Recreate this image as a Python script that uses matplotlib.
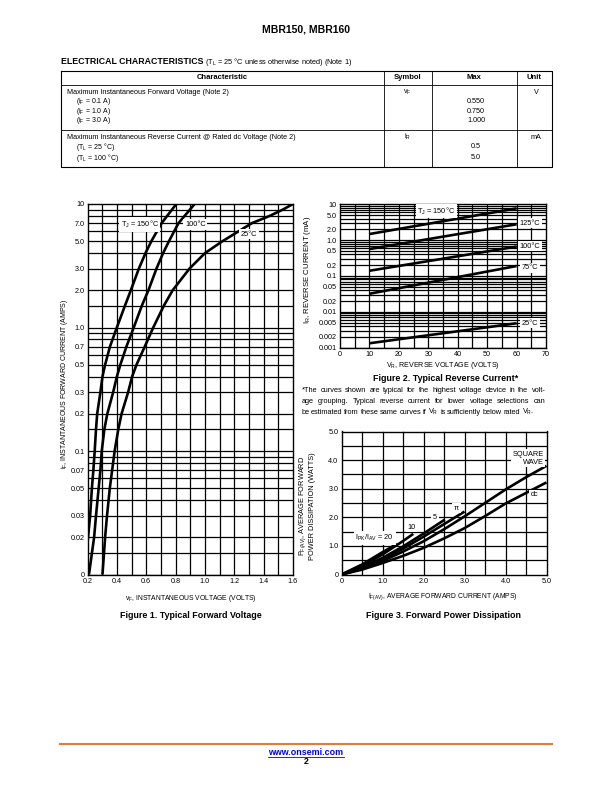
import numpy as np
import matplotlib
matplotlib.use("Agg")
import matplotlib.pyplot as plt

plt.rcParams['font.family'] = ['Liberation Sans', 'DejaVu Sans']
plt.rcParams['mathtext.fontset'] = 'custom'
plt.rcParams['mathtext.rm'] = 'Liberation Sans'

# ---- Figure 1: typical forward voltage (vF in V, iF in A)
i150 = [0.018, 0.03, 0.05, 0.07, 0.1, 0.15, 0.2, 0.3, 0.4, 0.5, 0.7, 1.0, 1.5, 2.0, 3.0, 4.0, 5.0, 7.0, 10.0]
v150 = [0.200, 0.218, 0.230, 0.240, 0.249, 0.258, 0.266, 0.288, 0.302, 0.320, 0.353, 0.400, 0.455, 0.495, 0.550, 0.595, 0.635, 0.705, 0.805]
i100 = [0.01, 0.02, 0.03, 0.05, 0.07, 0.1, 0.15, 0.2, 0.3, 0.4, 0.5, 0.7, 1.0, 1.5, 2.0, 3.0, 4.0, 5.0, 7.0, 10.0]
v100 = [0.210, 0.245, 0.258, 0.276, 0.288, 0.297, 0.315, 0.335, 0.375, 0.400, 0.424, 0.465, 0.515, 0.570, 0.615, 0.670, 0.715, 0.755, 0.820, 0.930]
i25 = [0.01, 0.02, 0.03, 0.05, 0.07, 0.1, 0.15, 0.2, 0.3, 0.4, 0.5, 0.7, 1.0, 1.5, 2.0, 3.0, 4.0, 5.0, 7.0, 8.0, 9.0, 10.0]
v25 = [0.302, 0.320, 0.333, 0.352, 0.368, 0.385, 0.410, 0.432, 0.477, 0.504, 0.534, 0.590, 0.648, 0.720, 0.780, 0.895, 1.000, 1.120, 1.320, 1.440, 1.530, 1.600]
f1_yticks = [0.01, 0.02, 0.03, 0.05, 0.07, 0.1, 0.2, 0.3, 0.5, 0.7, 1.0, 2.0, 3.0, 5.0, 7.0, 10.0]
f1_ylabels = ['0', '0.02', '0.03', '0.05', '0.07', '0.1', '0.2', '0.3', '0.5', '0.7', '1.0', '2.0', '3.0', '5.0', '7.0', '10']
f1_xticks = [0.2, 0.4, 0.6, 0.8, 1.0, 1.2, 1.4, 1.6]

# ---- Figure 2: typical reverse current (VR in V, IR in mA)
vr = [10, 60]
ir150 = [1.48, 7.7]
ir125 = [0.566, 2.77]
ir100 = [0.14, 0.66]
ir75 = [0.032, 0.19]
ir25 = [0.00133, 0.0048]
f2_yticks = [0.001, 0.002, 0.005, 0.01, 0.02, 0.05, 0.1, 0.2, 0.5, 1.0, 2.0, 5.0, 10.0]
f2_ylabels = ['0.001', '0.002', '0.005', '0.01', '0.02', '0.05', '0.1', '0.2', '0.5', '1.0', '2.0', '5.0', '10']
f2_xticks = [0, 10, 20, 30, 40, 50, 60, 70]

# ---- Figure 3: forward power dissipation (IF(AV) in A, PF(AV) in W)
dc_i = [0, 0.5, 1.0, 1.5, 2.0, 2.5, 3.0, 3.5, 4.0, 4.5, 5.0]
dc_p = [0, 0.17, 0.40, 0.65, 0.93, 1.26, 1.62, 2.04, 2.48, 2.85, 3.22]
sq_i = [0, 0.5, 1.0, 1.5, 2.0, 2.5, 3.0, 3.5, 4.0, 4.5, 5.0]
sq_p = [0, 0.20, 0.47, 0.80, 1.16, 1.58, 2.03, 2.50, 2.97, 3.40, 3.80]
pi_i = [0, 0.5, 1.0, 1.5, 2.0, 2.5, 3.0]
pi_p = [0, 0.22, 0.52, 0.90, 1.32, 1.76, 2.20]
r5_i = [0, 0.5, 1.0, 1.5, 2.0, 2.52]
r5_p = [0, 0.25, 0.58, 0.98, 1.43, 1.92]
r10_i = [0, 0.5, 1.0, 1.5, 1.75]
r10_p = [0, 0.30, 0.70, 1.17, 1.42]
r20_i = [0, 0.5, 1.0, 1.35]
r20_p = [0, 0.35, 0.78, 1.07]
f3_ticks = [0, 1.0, 2.0, 3.0, 4.0, 5.0]
f3_labels = ['0', '1.0', '2.0', '3.0', '4.0', '5.0']

# ---- table
rows_char = [
    ['Maximum Instantaneous Forward Voltage (Note 2)',
     '(i$_\\mathregular{F}$ = 0.1 A)', '(i$_\\mathregular{F}$ = 1.0 A)', '(i$_\\mathregular{F}$ = 3.0 A)'],
    ['Maximum Instantaneous Reverse Current @ Rated dc Voltage (Note 2)',
     '(T$_\\mathregular{L}$ = 25 °C)', '(T$_\\mathregular{L}$ = 100 °C)'],
]
rows_symbol = ['v$_\\mathregular{F}$', 'i$_\\mathregular{R}$']
rows_max = [['0.550', '0.750', '1.000'], ['0.5', '5.0']]
rows_unit = ['V', 'mA']

fig = plt.figure(figsize=(6.12, 7.92), dpi=100)

# page layer in pixel coordinates
page = fig.add_axes([0, 0, 1, 1])
page.set_xlim(0, 612)
page.set_ylim(792, 0)
page.axis('off')

page.text(306, 30, 'MBR150, MBR160', ha='center', va='center', fontsize=7.5, fontweight='bold')
page.text(61, 61, 'ELECTRICAL CHARACTERISTICS', ha='left', va='center', fontsize=6.3, fontweight='bold')
page.text(205, 61.5, '(T$_\\mathregular{L}$ = 25 °C unless otherwise noted) (Note 1)', ha='left', va='center',
          fontsize=5.3)

# table grid
tl, tr, tt, tb = 61, 551.5, 70.5, 166.5
col = [383.5, 431.5, 516.5]
hb, r1b = 85, 130
page.plot([tl, tr, tr, tl, tl], [tt, tt, tb, tb, tt], color='black', lw=0.8)
for cx in col:
    page.plot([cx, cx], [tt, tb], color='black', lw=0.6)
page.plot([tl, tr], [hb, hb], color='black', lw=0.6)
page.plot([tl, tr], [r1b, r1b], color='black', lw=0.6)
hy = (tt + hb) / 2
for x, s in zip([(tl + col[0]) / 2, (col[0] + col[1]) / 2, (col[1] + col[2]) / 2, (col[2] + tr) / 2],
                ['Characteristic', 'Symbol', 'Max', 'Unit']):
    page.text(x, hy, s, ha='center', va='center', fontsize=5.5, fontweight='bold')

row_y = [[92.3, 101.6, 111.2, 120.9], [137.3, 147, 157.5]]
for r in range(2):
    for k, s in enumerate(rows_char[r]):
        page.text(67 if k == 0 else 76, row_y[r][k], s, ha='left', va='center',
                  fontsize=5.2 if k == 0 else 5.0)
    page.text((col[0] + col[1]) / 2, row_y[r][0], rows_symbol[r], ha='center', va='center', fontsize=5.2)
    for k, s in enumerate(rows_max[r]):
        page.text((col[1] + col[2]) / 2 + 2, row_y[r][k + 1], s, ha='center', va='center', fontsize=5.2)
    page.text((col[2] + tr) / 2 + 2, row_y[r][0], rows_unit[r], ha='center', va='center', fontsize=5.2)


def rect(x0, y0, x1, y1):
    return [x0 / 612, 1 - y1 / 792, (x1 - x0) / 612, (y1 - y0) / 792]


def style(ax):
    ax.tick_params(length=0, labelsize=5.2, pad=2.2)
    for s in ax.spines.values():
        s.set_linewidth(1.0)
    ax.set_axisbelow(True)


GRID = dict(color='black', lw=0.9, zorder=1)
CURVE = dict(color='black', lw=1.9, zorder=3, solid_capstyle='butt')
LBL = dict(fontsize=5.3, ha='center', va='center', zorder=4,
           bbox=dict(facecolor='white', edgecolor='none', pad=1.2))

# ---------------- Figure 1
ax1 = fig.add_axes(rect(87.5, 204, 293, 574.5))
style(ax1)
ax1.set_yscale('log')
ax1.set_xlim(0.2, 1.6)
ax1.set_ylim(0.01, 10)
for e in (-2, -1, 0):
    for m in (1, 1.5, 2, 3, 4, 5, 6, 7, 8, 9):
        ax1.axhline(m * 10.0 ** e, **GRID)
for x in np.arange(0.3, 1.6, 0.1):
    ax1.axvline(x, **GRID)
ax1.plot(v150, i150, **CURVE)
ax1.plot(v100, i100, **CURVE)
ax1.plot(v25, i25, **CURVE)
ax1.set_yticks(f1_yticks, f1_ylabels)
ax1.set_xticks(f1_xticks, ['%.1f' % v for v in f1_xticks])
ax1.minorticks_off()
ax1.text(0.555, 6.8, 'T$_\\mathregular{J}$ = 150°C', **LBL)
ax1.text(0.935, 6.8, '100°C', **LBL)
ax1.text(1.30, 5.7, '25°C', **LBL)

page.text(64.5, 384, 'i$_\\mathregular{F}$, INSTANTANEOUS FORWARD CURRENT (AMPS)', rotation=90,
          ha='center', va='center', fontsize=5.0)
page.text(190.5, 598.3, 'v$_\\mathregular{F}$, INSTANTANEOUS VOLTAGE (VOLTS)', ha='center', va='center',
          fontsize=4.9)
page.text(190.5, 616, 'Figure 1. Typical Forward Voltage', ha='center', va='center', fontsize=6.4,
          fontweight='bold')

# ---------------- Figure 2
ax2 = fig.add_axes(rect(340, 204.3, 546, 347.7))
style(ax2)
ax2.set_yscale('log')
ax2.set_xlim(0, 70)
ax2.set_ylim(0.001, 10)
for e in (-3, -2, -1, 0):
    for m in range(1, 10):
        ax2.axhline(m * 10.0 ** e, **GRID)
for x in range(5, 70, 5):
    ax2.axvline(x, **GRID)
for ir in (ir150, ir125, ir100, ir75, ir25):
    ax2.plot(vr, ir, **CURVE)
ax2.set_yticks(f2_yticks, f2_ylabels)
ax2.set_xticks(f2_xticks, [str(v) for v in f2_xticks])
ax2.minorticks_off()
ax2.text(32.7, 6.5, 'T$_\\mathregular{J}$ = 150°C', **LBL)
ax2.text(64.6, 2.95, '125°C', **LBL)
ax2.text(64.6, 0.68, '100°C', **LBL)
ax2.text(64.6, 0.17, '75°C', **LBL)
ax2.text(64.6, 0.0048, '25°C', **LBL)

page.text(307.5, 270, 'I$_\\mathregular{R}$, REVERSE CURRENT (mA)', rotation=90, ha='center', va='center',
          fontsize=5.6)
page.text(443, 365.7, 'V$_\\mathregular{R}$, REVERSE VOLTAGE (VOLTS)', ha='center', va='center',
          fontsize=5.1)
page.text(446, 378.3, 'Figure 2. Typical Reverse Current*', ha='center', va='center', fontsize=6.4,
          fontweight='bold')

# footnote, justified
note = ['*The curves shown are typical for the highest voltage device in the volt-',
        'age grouping. Typical reverse current for lower voltage selections can',
        'be estimated from these same curves if V$_\\mathregular{R}$ is sufficiently below rated V$_\\mathregular{R}$.']
renderer = fig.canvas.get_renderer()
for k, (line, y) in enumerate(zip(note, [391, 401.3, 412])):
    words = line.split(' ')
    arts = [page.text(0, y, w, ha='left', va='center', fontsize=5.3) for w in words]
    widths = [a.get_window_extent(renderer).width for a in arts]
    gap = (545.5 - 301.5 - sum(widths)) / (len(words) - 1) if k < 2 else 1.6
    x = 301.5
    for a, w in zip(arts, widths):
        a.set_x(x)
        x += w + gap

# ---------------- Figure 3
ax3 = fig.add_axes(rect(341.5, 431.5, 546.5, 574.5))
style(ax3)
ax3.set_xlim(0, 5)
ax3.set_ylim(0, 5)
for g in np.arange(0.5, 5.0, 0.5):
    ax3.axhline(g, **GRID)
    ax3.axvline(g, **GRID)
ax3.plot(dc_i, dc_p, **CURVE)
ax3.plot(sq_i, sq_p, **CURVE)
ax3.plot(pi_i, pi_p, **CURVE)
ax3.plot(r5_i, r5_p, **CURVE)
ax3.plot(r10_i, r10_p, **CURVE)
ax3.plot(r20_i, r20_p, **CURVE)
ax3.set_xticks(f3_ticks, f3_labels)
ax3.set_yticks(f3_ticks, f3_labels)
ax3.text(4.55, 4.06, 'SQUARE\nWAVE', fontsize=5.3, ha='center', va='center', zorder=4,
         multialignment='right', linespacing=1.1,
         bbox=dict(facecolor='white', edgecolor='none', pad=1.2))
ax3.text(4.7, 2.79, 'dc', **LBL)
ax3.text(2.8, 2.32, 'π', **LBL)
ax3.text(2.28, 2.0, '5', **LBL)
ax3.text(1.71, 1.66, '10', **LBL)
ax3.text(0.81, 1.28, 'I$_\\mathregular{PK}$/I$_\\mathregular{AV}$ = 20', **LBL)

page.text(303, 506, 'P$_\\mathregular{F(AV)}$, AVERAGE FORWARD', rotation=90, ha='center', va='center',
          fontsize=5.3)
page.text(313, 506, 'POWER DISSIPATION (WATTS)', rotation=90, ha='center', va='center',
          fontsize=5.3)
page.text(443, 597, 'I$_\\mathregular{F(AV)}$, AVERAGE FORWARD CURRENT (AMPS)', ha='center', va='center',
          fontsize=4.9)
page.text(443, 616, 'Figure 3. Forward Power Dissipation', ha='center', va='center', fontsize=6.4,
          fontweight='bold')

# ---------------- footer
page.plot([60, 552], [743.5, 743.5], color='#E07B39', lw=1.5)
page.text(306, 752.5, 'www.onsemi.com', ha='center', va='center', fontsize=6.4,
          fontweight='bold', color='#0000EE')
page.plot([268, 344], [756.5, 756.5], color='#0000EE', lw=0.6)
page.text(306, 762, '2', ha='center', va='center', fontsize=6.4, fontweight='bold')

fig.savefig('out.png', dpi=100)
